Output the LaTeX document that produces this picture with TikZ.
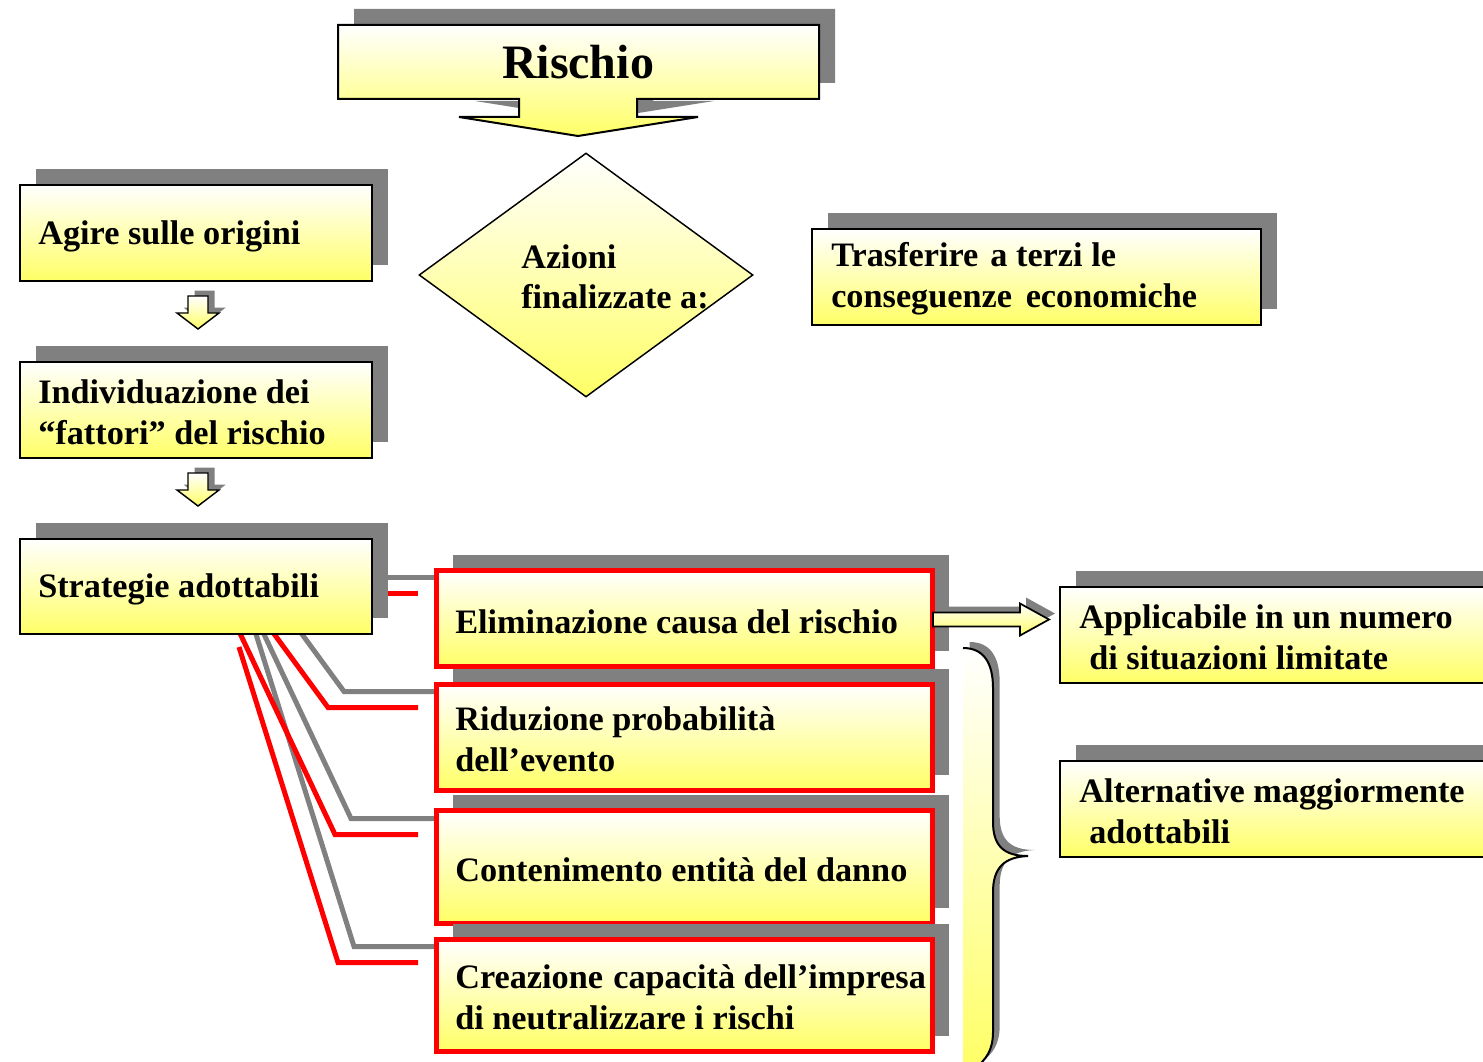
\documentclass[tikz,border=0pt]{standalone}
\usepackage{fontspec}
\setmainfont{Liberation Serif}
\usetikzlibrary{shadows,calc,shapes.geometric,backgrounds}
\definecolor{yel}{RGB}{255,255,102}
\definecolor{shgray}{RGB}{128,128,128}
\definecolor{rred}{RGB}{255,0,0}
\begin{document}
\begin{tikzpicture}[x=0.75pt,y=-0.75pt,
  txt/.style={font=\bfseries\fontsize{25.7}{30.5}\selectfont, inner sep=0pt, align=left, anchor=west},
  shad/.style={drop shadow={shadow xshift=12pt,shadow yshift=12pt,fill=shgray,opacity=1}},
  smshad/.style={drop shadow={shadow xshift=5pt,shadow yshift=4pt,fill=shgray,opacity=1}},
  grad/.style={top color=white,bottom color=yel},
  bx/.style={rectangle, shad, grad, draw=black, line width=1.5pt, anchor=north west, inner sep=0pt},
  rbx/.style={bx, draw=rred, line width=3.75pt},
  conn/.style={draw=rred, line width=3.75pt,
    preaction={draw=shgray, line width=3.75pt, transform canvas={xshift=12pt,yshift=12pt}}}]
\useasboundingbox (0,0) rectangle (1483,1062);
\clip (0,0) rectangle (1483,1062);

% title callout
\path[shad, grad, draw=black, line width=1.5pt]
  (338,25) -- (819,25) -- (819,99) -- (637,99) -- (637,117) -- (698,117) -- (578,136)
  -- (459,117) -- (519,117) -- (519,99) -- (338,99) -- cycle;
\node[txt, anchor=center, font=\bfseries\fontsize{36}{40}\selectfont] (rischio) at (578,62) {Rischio};

% diamond
\node[diamond, draw=black, line width=1.1pt, grad, minimum width=250.5pt, minimum height=183pt, inner sep=0pt] (azioni) at (586,275) {};
\node[txt] (aztxt) at (521,277) {Azioni\\finalizzate a:};

% left column
\node[bx, minimum width=264pt, minimum height=72pt] (agire) at (19,184) {};
\node[txt] at ($(agire.west)+(19,3)$) {Agire sulle origini};
\node[bx, minimum width=264pt, minimum height=72pt] (indiv) at (19,361) {};
\node[txt] at ($(indiv.west)+(19,2)$) {Individuazione dei\\“fattori” del rischio};
\node[bx, minimum width=264pt, minimum height=71.25pt] (strat) at (19,538) {};
\node[txt] at ($(strat.west)+(19,3)$) {Strategie adottabili};

% small arrows
\begin{scope}[shift={(agire.south)}]
\path[smshad, grad, draw=black, line width=1.1pt] (-8,14) -- (12,14) -- (12,31) -- (23,31) -- (2,47) -- (-19,31) -- (-8,31) -- cycle;
\end{scope}
\begin{scope}[shift={(indiv.south)}]
\path[smshad, grad, draw=black, line width=1.1pt] (-8,14) -- (12,14) -- (12,31) -- (23,31) -- (2,47) -- (-19,31) -- (-8,31) -- cycle;
\end{scope}

% transfer box
\node[bx, minimum width=336.75pt, minimum height=72pt] (trasf) at (811,228) {};
\node[txt] at ($(trasf.west)+(20,2)$) {Trasferire\hspace{0.35em}a terzi le\\conseguenze\hspace{0.4em}economiche};

% red boxes
\node[rbx, minimum width=372pt, minimum height=72pt] (elim) at (434,568) {};
\node[txt] at ($(elim.west)+(21,3)$) {Eliminazione causa del rischio};
\node[rbx, minimum width=372pt, minimum height=79.5pt] (redu) at (434,682) {};
\node[txt] at ($(redu.west)+(21,2)$) {Riduzione probabilità\\dell’evento};
\node[rbx, minimum width=372pt, minimum height=84.75pt] (conte) at (434,808) {};
\node[txt] at ($(conte.west)+(21,3)$) {Contenimento entità del danno};
\node[rbx, minimum width=372pt, minimum height=84pt] (crea) at (434,937) {};
\node[txt] at ($(crea.west)+(21,2)$) {Creazione\hspace{0.3em}capacità dell’impresa\\di neutralizzare i rischi};

% right boxes
\node[bx, minimum width=337.5pt, minimum height=72pt] (appl) at (1059,586) {};
\node[txt] at ($(appl.west)+(20,2)$) {Applicabile in un numero\\\hspace*{7.5pt}di situazioni limitate};
\node[bx, minimum width=337.5pt, minimum height=72pt] (alt) at (1059,760) {};
\node[txt] at ($(alt.west)+(20,2)$) {Alternative maggiormente\\\hspace*{7.5pt}adottabili};

% connectors
\begin{pgfonlayer}{background}
\draw[conn] ($(strat.south)+(43,12)$) -- ($(crea.west)+(-96,-33)$) -- ($(crea.west)+(-16,-33)$);
\draw[conn] ($(strat.south)+(41,-8)$) -- ($(conte.west)+(-99,-32.5)$) -- ($(conte.west)+(-16,-32.5)$);
\draw[conn] ($(strat.south)+(73,-8)$) -- ($(redu.west)+(-106,-30)$) -- ($(redu.west)+(-16,-30)$);
\draw[conn] ($(strat.east)+(-4,6.5)$) -- ($(elim.west |- strat.east)+(-16,6.5)$);
\end{pgfonlayer}

% right block arrow
\begin{scope}[shift={(elim.east)}]
\path[drop shadow={shadow xshift=4.5pt,shadow yshift=4.5pt,fill=shgray,opacity=1}, grad, draw=black, line width=1.3pt]
  (-2,-6) -- (85,-6) -- (85,-15) -- (114,1) -- (85,17) -- (85,8) -- (-2,8) -- cycle;
\end{scope}

% brace
\path[drop shadow={shadow xshift=5pt,shadow yshift=4.5pt,fill=shgray,opacity=1}, grad]
  (963,648) .. controls (983,648) and (993,662) .. (993,688) -- (993,822)
  .. controls (993,846) and (1004,856) .. (1028,856)
  .. controls (1004,857) and (993,868) .. (993,892) -- (993,1032)
  .. controls (993,1050) and (986,1060) .. (975,1068) -- (963,1068) -- cycle;
\draw[black, line width=1.5pt]
  (963,648) .. controls (983,648) and (993,662) .. (993,688) -- (993,822)
  .. controls (993,846) and (1004,856) .. (1028,856)
  .. controls (1004,857) and (993,868) .. (993,892) -- (993,1032)
  .. controls (993,1050) and (986,1060) .. (975,1068);
\end{tikzpicture}
\end{document}
